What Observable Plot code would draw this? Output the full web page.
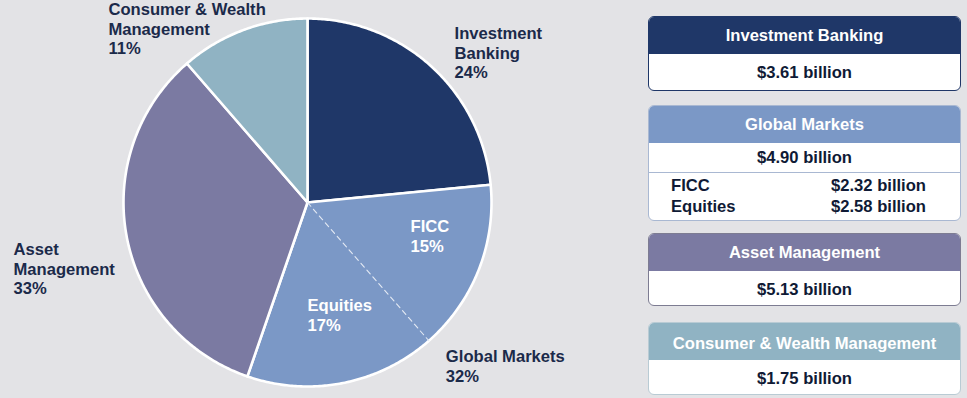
<!DOCTYPE html>
<html>
<head>
<meta charset="utf-8">
<script src="https://cdn.jsdelivr.net/npm/d3@7"></script>
<script src="https://cdn.jsdelivr.net/npm/@observablehq/plot@0.6"></script>
<style>
  html, body { margin: 0; padding: 0; }
  body { width: 967px; height: 398px; background: #e3e3e6; position: relative; overflow: hidden;
         font-family: "Liberation Sans", Arial, sans-serif; }
  #chart { position: absolute; left: 0; top: 0; }
  .box { position: absolute; left: 648px; width: 313px; background: #fff; border: 1px solid; border-radius: 6px;
         overflow: hidden; box-sizing: border-box; font-weight: bold; font-size: 16.6px; }
  .box .hd { color: #fff; text-align: center; height: 37px; line-height: 38px; }
  .box .val { color: #0f1a35; text-align: center; height: 36px; line-height: 38px; }
  .box .sub { color: #0f1a35; display: flex; height: 21px; line-height: 21px; }
  .box .sub span:first-child { width: 182px; padding-left: 22px; box-sizing: border-box; }
</style>
</head>
<body>
<div id="chart"></div>
<div id="boxes"></div>
<script>
// ---- data ----
const segments = ["Investment Banking", "Global Markets", "Asset Management", "Consumer & Wealth Management"];
const revenues = [3.61, 4.90, 5.13, 1.75];           // $ billion
const sharePct = [24, 32, 33, 11];                    // % of net revenues
const gmParts = ["FICC", "Equities"];
const gmRevenues = [2.32, 2.58];                      // $ billion
const gmSharePct = [15, 17];

// ---- styles ----
const colors = ["#1f3768", "#7b98c6", "#7b7aa2", "#90b3c3"];
const borders = ["#1f3768", "#a9b8d2", "#7d7c92", "#b9cbd4"];
const textDark = "#1b2a4a";

// ---- pie geometry (unit circle, angle clockwise from 12 o'clock) ----
const arcs = d3.pie().sort(null).value(d => d.value)(segments.map((s, i) => ({name: s, value: revenues[i]})));
const pt = a => ({x: Math.sin(a), y: Math.cos(a)});
const wedges = [];
arcs.forEach(a => {
  const n = Math.max(2, Math.ceil((a.endAngle - a.startAngle) / 0.01));
  wedges.push({name: a.data.name, x: 0, y: 0});
  for (let k = 0; k <= n; k++) {
    const p = pt(a.startAngle + (a.endAngle - a.startAngle) * k / n);
    wedges.push({name: a.data.name, x: p.x, y: p.y});
  }
  wedges.push({name: a.data.name, x: 0, y: 0});
});
// dashed split of Global Markets into FICC / Equities
const gmArc = arcs[1];
const splitAngle = gmArc.startAngle + (gmArc.endAngle - gmArc.startAngle) * gmRevenues[0] / d3.sum(gmRevenues);
const splitLine = [{x: 0, y: 0}, pt(splitAngle)];

// ---- labels ----
const wrapped = {
  "Investment Banking": "Investment\nBanking",
  "Global Markets": "Global Markets",
  "Asset Management": "Asset\nManagement",
  "Consumer & Wealth Management": "Consumer & Wealth\nManagement",
  "FICC": "FICC",
  "Equities": "Equities"
};
const anchorPos = {
  "Investment Banking": [0.799, 0.815],
  "Global Markets": [0.752, -0.886],
  "Asset Management": [-1.598, -0.359],
  "Consumer & Wealth Management": [-1.082, 0.946],
  "FICC": [0.560, -0.182],
  "Equities": [0.0, -0.609]
};
const labels = [
  ...segments.map((s, i) => ({name: s, text: `${wrapped[s]}\n${sharePct[i]}%`, inside: false})),
  ...gmParts.map((s, i) => ({name: s, text: `${wrapped[s]}\n${gmSharePct[i]}%`, inside: true}))
].map(d => ({...d, x: anchorPos[d.name][0], y: anchorPos[d.name][1]}));

const R = 184, cx = 307, cy = 202, W = 640, H = 398;
const plot = Plot.plot({
  width: W, height: H,
  marginLeft: cx - R, marginRight: W - (cx + R),
  marginTop: cy - R, marginBottom: H - (cy + R),
  x: {domain: [-1, 1], axis: null},
  y: {domain: [-1, 1], axis: null},
  color: {domain: segments, range: colors},
  style: {background: "transparent", fontFamily: "'Liberation Sans', Arial, sans-serif"},
  marks: [
    Plot.line(wedges, {x: "x", y: "y", z: "name", fill: "name", stroke: "#ffffff", strokeWidth: 2.6,
                       strokeLinejoin: "round", curve: "linear"}),
    Plot.line(splitLine, {x: "x", y: "y", stroke: "#e4eaf4", strokeWidth: 1.1, strokeDasharray: "5,4"}),
    Plot.text(labels, {x: "x", y: "y", text: "text", textAnchor: "start", lineAnchor: "middle",
                       lineHeight: 1.18, fontSize: 16.6, fontWeight: "bold",
                       fill: d => d.inside ? "#ffffff" : textDark})
  ]
});
document.getElementById("chart").appendChild(plot);

// ---- right-hand boxes ----
const fmt = v => `$${v.toFixed(2)} billion`;
const tops = [16, 105, 233, 322];
const boxes = document.getElementById("boxes");
segments.forEach((s, i) => {
  const b = document.createElement("div");
  b.className = "box";
  b.style.top = tops[i] + "px";
  b.style.borderColor = borders[i];
  let html = `<div class="hd" style="background:${colors[i]}">${s}</div><div class="val">${fmt(revenues[i])}</div>`;
  if (s === "Global Markets") {
    html = `<div class="hd" style="background:${colors[i]}">${s}</div>` +
           `<div class="val" style="height:29px;line-height:30px;border-bottom:1.5px solid ${borders[i]}">${fmt(revenues[i])}</div>` +
           `<div style="height:2px"></div>` +
           gmParts.map((p, k) => `<div class="sub"><span>${p}</span><span>${fmt(gmRevenues[k])}</span></div>`).join("");
    b.style.height = "116px";
  } else {
    b.style.height = (i === 0 ? 75 : 73) + "px";
  }
  b.innerHTML = html;
  if (s === "Consumer & Wealth Management") b.querySelector(".hd").style.lineHeight = "42px";
  boxes.appendChild(b);
});
</script>
</body>
</html>
